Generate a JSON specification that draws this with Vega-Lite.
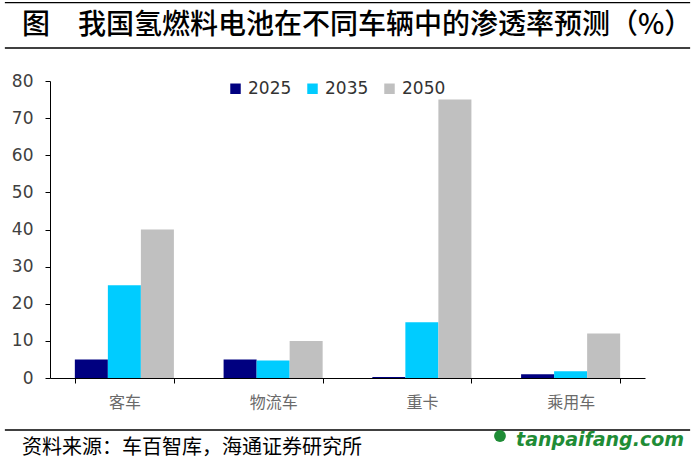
{
  "$schema": "https://vega.github.io/schema/vega-lite/v6.json",
  "width": 595,
  "height": 297,
  "autosize": {"type": "none"},
  "padding": {"left": 50, "top": 81, "right": 50, "bottom": 82},
  "background": "white",
  "config": {"view": {"stroke": null}},
  "resolve": {"scale": {"x": "independent", "y": "independent"}},
  "layer": [
    {
      "data": {
        "values": [
          {"cat": "客车", "year": "2025", "v": 5},
          {"cat": "客车", "year": "2035", "v": 25},
          {"cat": "客车", "year": "2050", "v": 40},
          {"cat": "物流车", "year": "2025", "v": 5},
          {"cat": "物流车", "year": "2035", "v": 4.7},
          {"cat": "物流车", "year": "2050", "v": 10},
          {"cat": "重卡", "year": "2025", "v": 0.3},
          {"cat": "重卡", "year": "2035", "v": 15},
          {"cat": "重卡", "year": "2050", "v": 75},
          {"cat": "乘用车", "year": "2025", "v": 1},
          {"cat": "乘用车", "year": "2035", "v": 1.8},
          {"cat": "乘用车", "year": "2050", "v": 12}
        ]
      },
      "mark": {"type": "bar"},
      "encoding": {
        "x": {
          "field": "cat",
          "type": "nominal",
          "sort": null,
          "scale": {"paddingInner": 0.334, "paddingOuter": 0.167},
          "axis": {
            "title": null,
            "labelAngle": 0,
            "labelFont": "Noto Sans CJK SC",
            "labelFontSize": 16,
            "labelColor": "#6a6a6a",
            "labelPadding": 11,
            "tickBand": "extent",
            "tickSize": 5,
            "tickColor": "#000000",
            "domainColor": "#000000",
            "grid": false
          }
        },
        "xOffset": {"field": "year", "type": "nominal", "scale": {"paddingInner": 0, "paddingOuter": 0}},
        "y": {
          "field": "v",
          "type": "quantitative",
          "scale": {"domain": [0, 80], "nice": false, "zero": true},
          "axis": {
            "title": null,
            "values": [0, 10, 20, 30, 40, 50, 60, 70, 80],
            "labelFont": "DejaVu Sans",
            "labelFontSize": 17,
            "labelColor": "#404040",
            "labelPadding": 12,
            "tickSize": 5,
            "tickColor": "#000000",
            "domainColor": "#000000",
            "grid": false
          }
        },
        "color": {
          "field": "year",
          "type": "nominal",
          "scale": {"domain": ["2025", "2035", "2050"], "range": ["#000080", "#00CCFF", "#C0C0C0"]},
          "legend": {
            "title": null,
            "orient": "none",
            "legendX": 177,
            "legendY": -1,
            "direction": "horizontal",
            "columns": 3,
            "symbolType": "square",
            "symbolSize": 110,
            "symbolStrokeWidth": 0,
            "labelFont": "DejaVu Sans",
            "labelFontSize": 17,
            "labelColor": "#333333",
            "labelOffset": 4,
            "columnPadding": 12
          }
        }
      }
    },
    {
      "data": {"values": [{}]},
      "layer": [
        {
          "mark": {"type": "rule", "color": "#000000", "strokeWidth": 1.2},
          "encoding": {
            "x": {"datum": 0.007, "type": "quantitative"},
            "x2": {"datum": 0.993},
            "y": {"datum": 0.9941, "type": "quantitative"}
          }
        },
        {
          "mark": {"type": "rule", "color": "#000000", "strokeWidth": 1.6},
          "encoding": {
            "x": {"datum": 0.007, "type": "quantitative"},
            "x2": {"datum": 0.993},
            "y": {"datum": 0.8957, "type": "quantitative"}
          }
        },
        {
          "mark": {"type": "rule", "color": "#000000", "strokeWidth": 1.6},
          "encoding": {
            "x": {"datum": 0.007, "type": "quantitative"},
            "x2": {"datum": 0.993},
            "y": {"datum": 0.0652, "type": "quantitative"}
          }
        },
        {
          "mark": {"type": "text", "text": "图　我国氢燃料电池在不同车辆中的渗透率预测（%）", "align": "left", "baseline": "middle", "font": "Noto Sans CJK SC", "fontSize": 28, "fontWeight": 500, "color": "#000000"},
          "encoding": {
            "x": {"datum": 0.0317, "type": "quantitative"},
            "y": {"datum": 0.9435, "type": "quantitative"}
          }
        },
        {
          "mark": {"type": "text", "text": "资料来源：车百智库，海通证券研究所", "align": "left", "baseline": "middle", "font": "Noto Sans CJK SC", "fontSize": 20, "color": "#000000"},
          "encoding": {
            "x": {"datum": 0.0317, "type": "quantitative"},
            "y": {"datum": 0.0261, "type": "quantitative"}
          }
        },
        {
          "mark": {"type": "text", "text": "tanpaifang.com", "align": "right", "baseline": "middle", "font": "DejaVu Sans", "fontSize": 19, "fontWeight": "bold", "fontStyle": "italic", "color": "#1f8c36"},
          "encoding": {
            "x": {"datum": 0.9842, "type": "quantitative"},
            "y": {"datum": 0.0435, "type": "quantitative"}
          }
        },
        {
          "mark": {"type": "point", "shape": "circle", "filled": true, "size": 140, "color": "#1f8c36", "opacity": 1},
          "encoding": {
            "x": {"datum": 0.7194, "type": "quantitative"},
            "y": {"datum": 0.0522, "type": "quantitative"}
          }
        }
      ],
      "encoding": {
        "x": {"type": "quantitative", "scale": {"domain": [0.07194, 0.92806], "nice": false, "zero": false}, "axis": null},
        "y": {"type": "quantitative", "scale": {"domain": [0.17826, 0.82391], "nice": false, "zero": false}, "axis": null}
      }
    }
  ]
}
